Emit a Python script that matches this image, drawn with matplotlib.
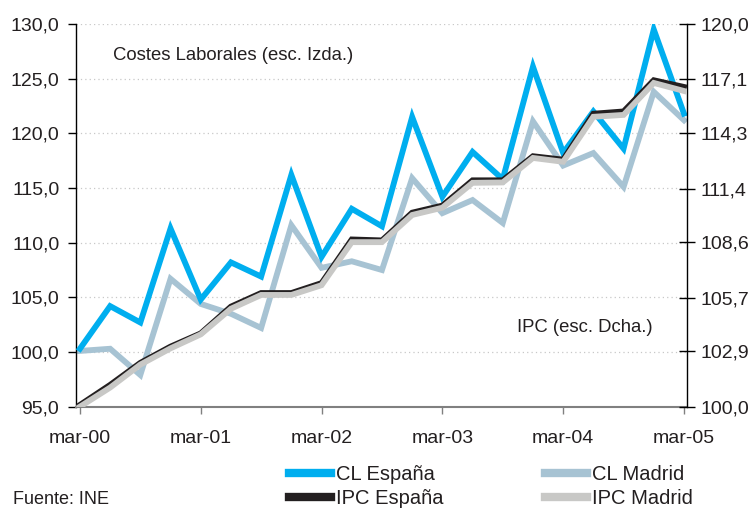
import matplotlib
matplotlib.use("Agg")
import matplotlib.pyplot as plt
import numpy as np

plt.rcParams['font.family'] = ['Liberation Sans', 'DejaVu Sans']

quarters = ["mar-00", "jun-00", "sep-00", "dic-00", "mar-01", "jun-01", "sep-01", "dic-01",
            "mar-02", "jun-02", "sep-02", "dic-02", "mar-03", "jun-03", "sep-03", "dic-03",
            "mar-04", "jun-04", "sep-04", "dic-04", "mar-05"]
tick_labels = ["mar-00", "mar-01", "mar-02", "mar-03", "mar-04", "mar-05"]

cl_espana = [100.3, 104.2, 102.7, 111.3, 104.8, 108.2, 106.9, 116.2, 108.7, 113.1, 111.5,
             121.5, 114.2, 118.3, 115.8, 126.1, 118.2, 122.0, 118.6, 129.5, 121.8]
cl_madrid = [100.1, 100.3, 97.9, 106.7, 104.4, 103.5, 102.2, 111.6, 107.7, 108.3, 107.5,
             115.9, 112.7, 113.9, 111.8, 121.1, 117.05, 118.2, 115.1, 123.8, 121.2]
ipc_espana = [100.09, 101.14, 102.29, 103.14, 103.83, 105.23, 105.94, 105.94, 106.46, 108.74, 108.69,
              110.14, 110.51, 111.83, 111.83, 113.09, 112.91, 115.31, 115.43, 117.06, 116.71]
ipc_madrid = [100.0, 101.0, 102.2, 103.05, 103.78, 105.12, 105.84, 105.84, 106.35, 108.6, 108.6,
              110.02, 110.4, 111.7, 111.72, 113.0, 112.8, 115.15, 115.25, 116.92, 116.5]

left_ticks = [95, 100, 105, 110, 115, 120, 125, 130]
right_ticks = [100.0, 102.9, 105.7, 108.6, 111.4, 114.3, 117.1, 120.0]

c_blue = "#00AEEF"
c_madrid = "#A7C3D3"
c_black = "#231F20"
c_grey = "#C8C8C6"
txt = "#231F20"

x = np.arange(len(quarters))

fig = plt.figure(figsize=(7.55, 5.12), dpi=100)
ax = fig.add_axes([76/755, 1-406.7/512, (687-76)/755, (406.7-24)/512])
ax2 = ax.twinx()

lw = 4.2
l1, = ax.plot(x, cl_espana, color=c_blue, lw=lw, solid_joinstyle='miter', zorder=3, label="CL España")
l2, = ax.plot(x, cl_madrid, color=c_madrid, lw=lw, solid_joinstyle='miter', zorder=2, label="CL Madrid")
l3, = ax2.plot(x, ipc_espana, color=c_black, lw=lw, solid_joinstyle='miter', zorder=3, label="IPC España")
l4, = ax2.plot(x, ipc_madrid, color=c_grey, lw=lw, solid_joinstyle='miter', zorder=4, label="IPC Madrid")

ax.set_ylim(95, 130)
ax2.set_ylim(100, 120)
ax.set_xlim(-0.13, 20.1)

ax.set_yticks(left_ticks)
ax.set_yticklabels([f"{v:.1f}".replace(".", ",") for v in left_ticks])
ax2.set_yticks(right_ticks)
ax2.set_yticklabels([f"{v:.1f}".replace(".", ",") for v in right_ticks])
ax.set_xticks(x[::4])
ax.set_xticklabels(tick_labels)

for v in left_ticks[1:]:
    ax.axhline(v, color="#C8C8C8", lw=0.9, ls=(0, (1, 2.5)), zorder=0)

for a in (ax, ax2):
    a.spines['top'].set_visible(False)
ax.spines['right'].set_visible(False)
ax.spines['left'].set_color("black")
ax.spines['left'].set_linewidth(1.0)
ax.spines['bottom'].set_color("#808080")
ax.spines['bottom'].set_linewidth(1.5)
ax2.spines['left'].set_visible(False)
ax2.spines['bottom'].set_visible(False)
ax2.spines['right'].set_color("black")
ax2.spines['right'].set_linewidth(1.0)

fs = 14
ax.tick_params(axis='y', direction='out', length=6, width=1, pad=6, labelsize=fs, labelcolor=txt)
ax.tick_params(axis='x', direction='out', length=5, width=1, color="#808080", pad=12, labelsize=fs, labelcolor=txt)
ax2.tick_params(axis='y', direction='inout', length=12, width=1, pad=4, labelsize=fs, labelcolor=txt)

fig.text(113/755, 1-55/512, "Costes Laborales (esc. Izda.)", fontsize=13.3, color=txt, va='center', ha='left')
fig.text(653/755, 1-327/512, "IPC (esc. Dcha.)", fontsize=13.3, color=txt, va='center', ha='right')
fig.text(13/755, 1-500/512, "Fuente: INE", fontsize=13, color=txt, va='center', ha='left')

leg = fig.legend([l1, l3, l2, l4], ["CL España", "IPC España", "CL Madrid", "IPC Madrid"],
                 ncol=2, loc='upper left', bbox_to_anchor=(289/755, 1-465/512),
                 frameon=False, fontsize=14.5, handlelength=2.1, handletextpad=0.25,
                 columnspacing=5.0, labelspacing=0.25, borderpad=0, borderaxespad=0)
for h in leg.legend_handles:
    h.set_linewidth(6)
for t in leg.get_texts():
    t.set_color(txt)

fig.savefig("out.png", dpi=100)
